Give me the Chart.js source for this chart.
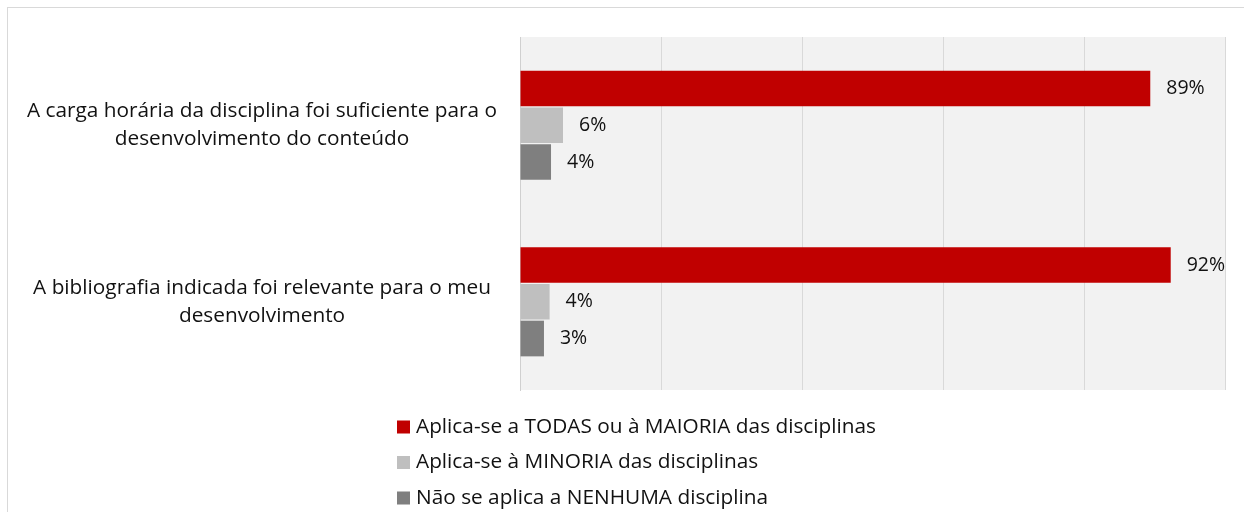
<!DOCTYPE html>
<html>
<head>
<meta charset="utf-8">
<script src="https://cdn.jsdelivr.net/npm/chart.js@4.4.1/dist/chart.umd.min.js"></script>
<style>
  html, body { margin: 0; padding: 0; background: #fff; }
  #wrap { width: 1244px; height: 512px; position: relative; }
</style>
</head>
<body>
<div id="wrap"><canvas id="chart"></canvas></div>
<script>
// Questions (y categories), split in lines like the original
var categories = [
  ['A carga horária da disciplina foi suficiente para o', 'desenvolvimento do conteúdo'],
  ['A bibliografia indicada foi relevante para o meu', 'desenvolvimento']
];
var seriesNames = [
  'Aplica-se a TODAS ou à MAIORIA das disciplinas',
  'Aplica-se à MINORIA das disciplinas',
  'Não se aplica a NENHUMA disciplina'
];
var todas = [89.4, 92.3];
var minoria = [6.1, 4.2];
var nenhuma = [4.4, 3.4];
var colors = ['#c00000', '#bfbfbf', '#7f7f7f'];
var xTicks = [0, 20, 40, 60, 80, 100];

var FONT = '"Open Sans"';
var FSIZE = 20.8;   // category + legend text
var VSIZE = 19.5;   // value labels

// frame around the whole picture + grey plot background
var backgroundPlugin = {
  id: 'bg',
  beforeDraw: function(chart) {
    var ctx = chart.ctx, a = chart.chartArea;
    ctx.save();
    ctx.fillStyle = '#f2f2f2';
    ctx.fillRect(a.left, a.top, a.right - a.left, a.bottom - a.top);
    ctx.strokeStyle = '#d9d9d9';
    ctx.lineWidth = 1;
    ctx.strokeRect(7.5, 7.5, chart.width, chart.height);
    ctx.restore();
  }
};

// value labels at the end of each bar
var valueLabels = {
  id: 'valueLabels',
  afterDatasetsDraw: function(chart) {
    var ctx = chart.ctx;
    ctx.save();
    ctx.font = VSIZE + 'px ' + FONT;
    ctx.fillStyle = '#111';
    ctx.textAlign = 'left';
    ctx.textBaseline = 'middle';
    chart.data.datasets.forEach(function(ds, i) {
      chart.getDatasetMeta(i).data.forEach(function(bar, j) {
        ctx.fillText(Math.round(ds.data[j]) + '%', bar.x + 16, bar.y);
      });
    });
    ctx.restore();
  }
};

// vertical legend under the plot
var stackedLegend = {
  id: 'stackedLegend',
  afterDraw: function(chart) {
    var ctx = chart.ctx, a = chart.chartArea;
    ctx.save();
    ctx.font = FSIZE + 'px ' + FONT;
    ctx.textAlign = 'left';
    ctx.textBaseline = 'middle';
    chart.data.datasets.forEach(function(ds, i) {
      var y = a.bottom + 37 + i * 35.5;
      ctx.fillStyle = ds.backgroundColor;
      ctx.fillRect(397, y - 6.5, 13, 13);
      ctx.fillStyle = '#111';
      ctx.fillText(ds.label, 416, y);
    });
    ctx.restore();
  }
};

var ctx = document.getElementById('chart');
var myChart = new Chart(ctx, {
  type: 'bar',
  data: {
    labels: categories,
    datasets: [
      { label: seriesNames[0], data: todas, backgroundColor: colors[0] },
      { label: seriesNames[1], data: minoria, backgroundColor: colors[1] },
      { label: seriesNames[2], data: nenhuma, backgroundColor: colors[2] }
    ]
  },
  options: {
    indexAxis: 'y',
    responsive: true,
    maintainAspectRatio: false,
    animation: false,
    layout: { padding: { top: 37, right: 19, bottom: 122, left: 0 } },
    datasets: {
      bar: { categoryPercentage: 0.625, barPercentage: 0.97, borderWidth: 0 }
    },
    scales: {
      x: {
        min: 0,
        max: 100,
        afterBuildTicks: function(scale) {
          scale.ticks = xTicks.map(function(v) { return { value: v }; });
        },
        ticks: { display: false },
        grid: { color: '#d9d9d9', drawTicks: false },
        border: { display: false }
      },
      y: {
        afterFit: function(scale) {
          scale.width = 520;
          scale.paddingTop = 0;
          scale.paddingBottom = 0;
        },
        ticks: {
          crossAlign: 'center',
          padding: 23,
          color: '#111',
          font: { family: FONT, size: FSIZE, lineHeight: 1.36 }
        },
        grid: { display: false, drawTicks: false },
        border: { display: true, color: '#d0d0d0' }
      }
    },
    plugins: {
      legend: { display: false },
      tooltip: { enabled: false }
    }
  },
  plugins: [backgroundPlugin, valueLabels, stackedLegend]
});
</script>
</body>
</html>
